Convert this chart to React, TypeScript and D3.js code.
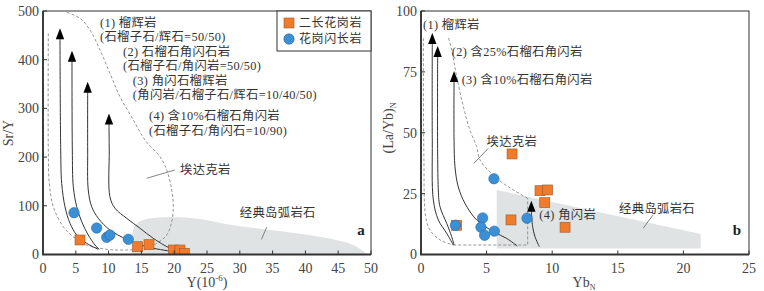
import React, { useEffect, useRef } from "react";
import * as d3 from "d3";

type Pt = [number, number];

// ---------- panel a : Sr/Y vs Y ----------
const aXTicks = [0, 5, 10, 15, 20, 25, 30, 35, 40, 45, 50];
const aYTicks = [0, 100, 200, 300, 400, 500];
const aGranite: Pt[] = [[5.64, 29.8], [14.43, 16], [16.16, 20.1], [19.86, 9.2], [20.88, 9.2], [21.54, 2.5]];
const aDiorite: Pt[] = [[4.73, 85.8], [8.18, 54.4], [9.71, 35.3], [10.2, 40], [13.0, 31.2]];
const aCurve1: Pt[] = [[2.59, 444], [2.7, 214.6], [2.85, 146.2], [3.35, 98.2], [4.12, 64], [5.14, 40], [6.66, 23], [8.43, 10.7]];
const aCurve2: Pt[] = [[4.42, 398], [4.47, 214.6], [4.62, 139], [5.14, 98.2], [5.9, 67.3], [6.9, 40], [7.93, 19.5], [8.58, 10.7]];
const aCurve3: Pt[] = [[6.81, 334], [6.81, 214.6], [6.9, 132.4], [7.42, 98.2], [8.43, 74.3], [10.2, 50.3], [12.76, 31.2], [15.8, 16], [19.86, 5.7], [21.6, 1.5]];
const aCurve4: Pt[] = [[10.06, 269], [10.1, 214.6], [10.2, 118.7], [10.98, 94.9], [12.76, 74.3], [14.8, 53.8], [16.8, 33.3], [19.36, 12.7], [21.4, 2.5]];
const aAdakite: Pt[] = [
  [0.81, 454], [0.81, 214.6], [0.96, 146.2], [1.57, 98.2], [3.09, 57], [4.62, 36.5], [6.66, 19.5],
  [9.71, 10.7], [12.76, 9.2], [15.29, 12.7], [17.33, 23], [18.86, 40], [19.62, 67.3], [19.86, 98.2],
  [19.62, 132.4], [18.86, 173.5], [17.84, 200.8], [15.55, 235], [13.77, 276.4], [11.74, 324],
  [10.21, 372], [8.69, 420], [7.16, 461], [5.64, 485], [3.35, 498.5],
];
const aArc: Pt[] = [
  [13.6, 0], [13.6, 42], [14.2, 62], [15.3, 71], [17.5, 76], [19.9, 77], [23.9, 73], [29, 60],
  [36.6, 47], [44.3, 31], [47.3, 19.5], [49.5, 0],
];

// ---------- panel b : (La/Yb)N vs YbN ----------
const bXTicks = [0, 5, 10, 15, 20, 25];
const bYTicks = [0, 25, 50, 75, 100];
const bGranite: Pt[] = [[6.94, 41.3], [9.07, 26.2], [9.65, 26.5], [9.43, 21.3], [6.86, 14.2], [10.98, 11.2], [2.72, 12]];
const bDiorite: Pt[] = [[5.56, 31.1], [2.62, 12], [4.7, 15], [4.57, 11.2], [5.59, 9.6], [4.85, 7.9], [8.08, 14.9]];
const bCurve1: Pt[] = [[0.86, 86.9], [0.86, 47], [0.94, 22.4], [1.32, 14.2], [1.96, 8.7], [2.46, 3.9]];
const bCurve2: Pt[] = [[1.27, 81.5], [1.32, 26.5], [1.45, 19.6], [1.96, 12.8], [2.34, 7.3], [2.52, 3.9]];
const bCurve3: Pt[] = [[2.52, 71.3], [2.52, 47], [2.59, 36], [2.84, 27.8], [3.35, 21], [4.24, 14.2], [5.51, 9.4], [6.53, 6.6], [7.34, 3.5]];
const bCurve4: Pt[] = [[8.41, 18], [8.51, 11.4], [8.69, 7.3], [9.02, 3.2]];
const bAdakiteLeft: Pt[] = [[0.18, 88.8], [0.22, 40], [0.36, 15.5], [0.69, 10], [1.45, 6], [2.46, 3.9]];
const bAdakiteBox: Pt[] = [[2.46, 3.9], [8.13, 3.9], [8.13, 23.1]];
const bAdakiteTop: Pt[] = [[8.13, 23.1], [7.04, 26.5], [5.77, 31.3], [4.5, 38.8], [4.24, 44.3], [3.73, 51], [3.23, 60.7], [2.72, 73], [2.34, 84], [2.08, 89.4]];
const bArc: Pt[] = [[5.77, 26.5], [5.77, 2.5], [21.32, 2.5], [21.32, 8.4]];

const legendNames = ["二长花岗岩", "花岗闪长岩"];

const FONT = "'Liberation Serif','Noto Sans CJK SC',serif";
const ORANGE = "#f07b2b";
const BLUE = "#3b8fd6";
const INK = "#333";

type Label = { t: string; x: number; y: number };
type Panel = {
  xr: [number, number];
  yr: [number, number];
  xd: [number, number];
  yd: [number, number];
  xt: number[];
  yt: number[];
  granite: Pt[];
  diorite: Pt[];
  curves: Pt[][];
  arc: Pt[];
  arcSmooth: boolean;
  dashed: { pts: Pt[]; smooth: boolean }[];
  labels: Label[];
  leaders: Pt[][];
  tag: Label;
};

const panelA: Panel = {
  xr: [43, 371], yr: [254.5, 11], xd: [0, 50], yd: [0, 500], xt: aXTicks, yt: aYTicks,
  granite: aGranite, diorite: aDiorite,
  curves: [aCurve1, aCurve2, aCurve3, aCurve4],
  arc: aArc, arcSmooth: true,
  dashed: [{ pts: aAdakite, smooth: true }],
  labels: [
    { t: "(1) 榴辉岩", x: 8.69, y: 476.5 },
    { t: "(石榴子石/辉石=50/50)", x: 8.69, y: 447.5 },
    { t: "(2) 石榴石角闪石岩", x: 12.2, y: 416.5 },
    { t: "(石榴子石/角闪岩=50/50)", x: 12.2, y: 387.5 },
    { t: "(3) 角闪石榴辉岩", x: 13.7, y: 356.5 },
    { t: "(角闪岩/石榴子石/辉石=10/40/50)", x: 13.7, y: 327.5 },
    { t: "(4) 含10%石榴石角闪岩", x: 16.16, y: 285.5 },
    { t: "(石榴子石/角闪石=10/90)", x: 16.16, y: 255 },
    { t: "埃达克岩", x: 20.9, y: 173.5 },
    { t: "经典岛弧岩石", x: 30, y: 85.8 },
  ],
  leaders: [[[15.8, 156.5], [20.1, 173.5]], [[33.3, 31.2], [34.1, 55.9]]],
  tag: { t: "a", x: 47.9, y: 50.3 },
};

const panelB: Panel = {
  xr: [421, 749], yr: [254.5, 11], xd: [0, 25], yd: [0, 100], xt: bXTicks, yt: bYTicks,
  granite: bGranite, diorite: bDiorite,
  curves: [bCurve1, bCurve2, bCurve3, bCurve4],
  arc: bArc, arcSmooth: false,
  dashed: [
    { pts: bAdakiteLeft, smooth: true },
    { pts: bAdakiteBox, smooth: false },
    { pts: bAdakiteTop, smooth: true },
  ],
  labels: [
    { t: "(1) 榴辉岩", x: 0.15, y: 94.2 },
    { t: "(2) 含25%石榴石角闪岩", x: 2.34, y: 83.3 },
    { t: "(3) 含10%石榴石角闪岩", x: 3.1, y: 71.7 },
    { t: "埃达克岩", x: 5.0, y: 46.2 },
    { t: "(4) 角闪岩", x: 9.02, y: 16.2 },
    { t: "经典岛弧岩石", x: 15.1, y: 19 },
  ],
  leaders: [[[4.04, 37.5], [5.13, 43.6]], [[16.94, 10.8], [17.68, 16.2]]],
  tag: { t: "b", x: 23.76, y: 10 },
};

function drawPanel(svg: d3.Selection<SVGSVGElement, unknown, null, undefined>, p: Panel, id: string) {
  const x = d3.scaleLinear().domain(p.xd).range(p.xr);
  const y = d3.scaleLinear().domain(p.yd).range(p.yr);
  const smooth = d3.line<Pt>().x(d => x(d[0])).y(d => y(d[1])).curve(d3.curveCatmullRom.alpha(0.5));
  const straight = d3.line<Pt>().x(d => x(d[0])).y(d => y(d[1]));

  svg.append("clipPath").attr("id", id)
    .append("rect")
    .attr("x", p.xr[0]).attr("y", p.yr[1])
    .attr("width", p.xr[1] - p.xr[0]).attr("height", p.yr[0] - p.yr[1]);

  const g = svg.append("g").attr("clip-path", `url(#${id})`);

  // island-arc field
  g.append("path")
    .attr("d", (p.arcSmooth ? smooth : straight)(p.arc) + "Z")
    .attr("fill", "#dfe3e3");

  // adakite field (dashed)
  p.dashed.forEach(d => {
    g.append("path")
      .attr("d", (d.smooth ? smooth : straight)(d.pts))
      .attr("fill", "none").attr("stroke", "#8a8a8a")
      .attr("stroke-width", 0.9).attr("stroke-dasharray", "3,2");
  });

  // melting curves + arrow heads
  p.curves.forEach(c => {
    g.append("path").attr("d", smooth(c))
      .attr("fill", "none").attr("stroke", INK).attr("stroke-width", 1);
    const tx = x(c[0][0]);
    const ty = y(c[0][1]);
    g.append("path")
      .attr("d", `M${tx},${ty - 10}L${tx + 4.2},${ty + 1}L${tx - 4.2},${ty + 1}Z`)
      .attr("fill", "#000");
  });

  // leaders
  p.leaders.forEach(l => {
    g.append("path").attr("d", straight(l))
      .attr("stroke", "#666").attr("stroke-width", 0.8).attr("fill", "none");
  });

  // samples
  g.selectAll("rect.gr").data(p.granite).enter().append("rect")
    .attr("x", d => x(d[0]) - 5).attr("y", d => y(d[1]) - 5)
    .attr("width", 10).attr("height", 10)
    .attr("fill", ORANGE).attr("stroke", "#9a5a30").attr("stroke-width", 0.6);
  g.selectAll("circle.di").data(p.diorite).enter().append("circle")
    .attr("cx", d => x(d[0])).attr("cy", d => y(d[1])).attr("r", 5.2)
    .attr("fill", BLUE).attr("stroke", "#2d6a9e").attr("stroke-width", 0.6);

  // labels
  p.labels.forEach(l => {
    svg.append("text")
      .attr("x", x(l.x)).attr("y", y(l.y)).attr("dy", "0.35em")
      .attr("font-size", 12.3).attr("fill", INK).attr("font-family", FONT)
      .attr("letter-spacing", 0.35)
      .text(l.t);
  });
  svg.append("text")
    .attr("x", x(p.tag.x)).attr("y", y(p.tag.y)).attr("dy", "0.35em")
    .attr("font-size", 15).attr("font-weight", "bold").attr("fill", "#222")
    .attr("font-family", FONT).text(p.tag.t);

  // frame
  svg.append("rect")
    .attr("x", p.xr[0]).attr("y", p.yr[1])
    .attr("width", p.xr[1] - p.xr[0]).attr("height", p.yr[0] - p.yr[1])
    .attr("fill", "none").attr("stroke", INK).attr("stroke-width", 1);
  svg.append("path")
    .attr("d", `M${p.xr[0]},${p.yr[1]}V${p.yr[0]}H${p.xr[1]}`)
    .attr("fill", "none").attr("stroke", INK).attr("stroke-width", 1.8);

  // ticks
  p.xt.forEach(v => {
    svg.append("line").attr("x1", x(v)).attr("x2", x(v))
      .attr("y1", p.yr[0]).attr("y2", p.yr[0] - 4).attr("stroke", INK);
    svg.append("text").attr("x", x(v)).attr("y", p.yr[0] + 18)
      .attr("text-anchor", "middle").attr("font-size", 14).attr("fill", "#444")
      .attr("font-family", FONT).text(v);
  });
  p.yt.forEach(v => {
    svg.append("line").attr("x1", p.xr[0]).attr("x2", p.xr[0] + 4)
      .attr("y1", y(v)).attr("y2", y(v)).attr("stroke", INK);
    svg.append("text").attr("x", p.xr[0] - 4).attr("y", y(v)).attr("dy", "0.35em")
      .attr("text-anchor", "end").attr("font-size", 14).attr("fill", "#444")
      .attr("font-family", FONT).text(v);
  });
}

export default function App() {
  const ref = useRef<SVGSVGElement>(null);

  useEffect(() => {
    const node = ref.current;
    if (!node) return;
    const svg = d3.select(node);
    svg.selectAll("*").remove();

    drawPanel(svg, panelA, "clipA");
    drawPanel(svg, panelB, "clipB");

    // legend (panel a)
    const lg = svg.append("g");
    lg.append("rect").attr("x", 277).attr("y", 11).attr("width", 94).attr("height", 40)
      .attr("fill", "#fff").attr("stroke", INK).attr("stroke-width", 1);
    lg.append("rect").attr("x", 284).attr("y", 18).attr("width", 10).attr("height", 10)
      .attr("fill", ORANGE).attr("stroke", "#9a5a30").attr("stroke-width", 0.6);
    lg.append("circle").attr("cx", 289).attr("cy", 39).attr("r", 5.2)
      .attr("fill", BLUE).attr("stroke", "#2d6a9e").attr("stroke-width", 0.6);
    legendNames.forEach((n, i) => {
      lg.append("text").attr("x", 299).attr("y", 23 + i * 16).attr("dy", "0.35em")
        .attr("font-size", 12).attr("letter-spacing", 0.6).attr("fill", INK)
        .attr("font-family", FONT).text(n);
    });

    // axis titles
    svg.append("text")
      .attr("transform", "translate(13,133) rotate(-90)")
      .attr("text-anchor", "middle").attr("font-size", 14).attr("fill", "#444")
      .attr("font-family", FONT).text("Sr/Y");
    const xa = svg.append("text")
      .attr("x", 207).attr("y", 287).attr("text-anchor", "middle")
      .attr("font-size", 14).attr("fill", "#444").attr("font-family", FONT);
    xa.append("tspan").text("Y(10");
    xa.append("tspan").attr("font-size", 9).attr("dy", -6).text("-6");
    xa.append("tspan").attr("dy", 6).text(")");

    const ya = svg.append("text")
      .attr("transform", "translate(393,128) rotate(-90)")
      .attr("text-anchor", "middle").attr("font-size", 14).attr("fill", "#444")
      .attr("font-family", FONT);
    ya.append("tspan").text("(La/Yb)");
    ya.append("tspan").attr("font-size", 8).attr("dy", 3).text("N");

    const xb = svg.append("text")
      .attr("x", 584).attr("y", 287).attr("text-anchor", "middle")
      .attr("font-size", 14).attr("fill", "#444").attr("font-family", FONT);
    xb.append("tspan").text("Yb");
    xb.append("tspan").attr("font-size", 8).attr("dy", 3).text("N");
  }, []);

  return (
    <svg
      ref={ref}
      width={764}
      height={291}
      style={{ position: "absolute", left: 0, top: 0, background: "#fff" }}
    />
  );
}
